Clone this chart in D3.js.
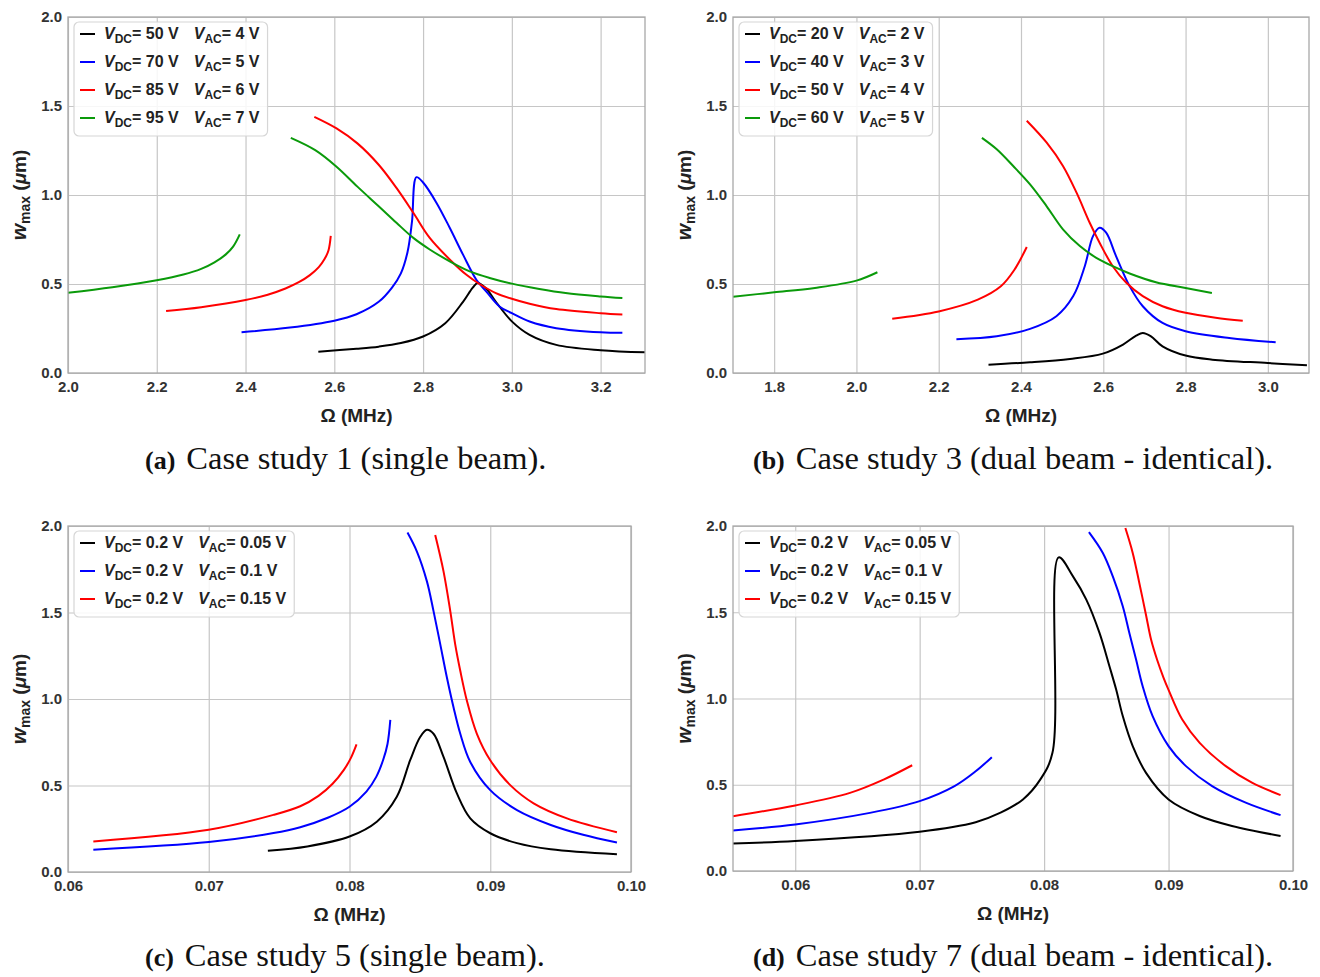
<!DOCTYPE html>
<html>
<head>
<meta charset="utf-8">
<style>
body{margin:0;background:#fff;}
svg{font-family:"Liberation Sans",Arial,sans-serif;}
.grid line{stroke:#c6c6c6;stroke-width:1.2;}
.grid path{display:none;}
.axis path,.axis line{display:none;}
.axis text{font-size:15px;font-weight:bold;fill:#333;}
.frame{fill:none;stroke:#a8a8a8;stroke-width:1.3;}
.line{fill:none;stroke-width:2;stroke-linejoin:round;}
.leg text{font-size:16px;font-weight:bold;fill:#222;}
.cap{font-family:"Liberation Serif","Times New Roman",serif;fill:#111;}
</style>
</head>
<body>
<svg width="1320" height="977"></svg>
<script src="https://d3js.org/d3.v7.min.js"></script>
<script>
// ---- data ----
var colors = ["#000000", "#0000ff", "#ff0000", "#0a9a0a"];
var yTicks = [0, 0.5, 1.0, 1.5, 2.0];

// (a) case study 1
var a_xTicks = [2.0, 2.2, 2.4, 2.6, 2.8, 3.0, 3.2];
var a_vdc = ["50", "70", "85", "95"], a_vac = ["4", "5", "6", "7"];
var a_black = [[2.564,0.12],[2.65,0.136],[2.70,0.148],[2.75,0.168],[2.80,0.205],[2.85,0.28],[2.89,0.40],[2.912,0.48],[2.923,0.505],[2.942,0.475],[2.964,0.40],[3.0,0.29],[3.04,0.214],[3.10,0.158],[3.2,0.128],[3.3,0.116]];
var a_blue = [[2.391,0.229],[2.5,0.255],[2.6,0.294],[2.65,0.33],[2.70,0.40],[2.73,0.48],[2.75,0.56],[2.765,0.68],[2.775,0.85],[2.785,1.10],[2.80,1.07],[2.83,0.957],[2.86,0.816],[2.89,0.665],[2.92,0.524],[2.942,0.459],[2.972,0.374],[3.0,0.336],[3.04,0.289],[3.10,0.252],[3.2,0.229],[3.249,0.226]];
var a_red_lo = [[2.221,0.348],[2.30,0.37],[2.40,0.41],[2.45,0.44],[2.49,0.475],[2.52,0.51],[2.545,0.55],[2.565,0.595],[2.578,0.64],[2.587,0.69],[2.592,0.77]];
var a_red_hi = [[2.555,1.439],[2.605,1.374],[2.652,1.29],[2.70,1.17],[2.74,1.04],[2.778,0.90],[2.815,0.759],[2.864,0.628],[2.897,0.553],[2.927,0.50],[2.964,0.449],[3.0,0.417],[3.04,0.389],[3.10,0.359],[3.2,0.336],[3.249,0.329]];
var a_green_lo = [[2.0,0.451],[2.1,0.482],[2.2,0.521],[2.26,0.553],[2.30,0.585],[2.33,0.622],[2.355,0.665],[2.372,0.71],[2.387,0.779]];
var a_green_hi = [[2.502,1.321],[2.557,1.252],[2.605,1.159],[2.652,1.047],[2.703,0.93],[2.74,0.844],[2.778,0.759],[2.815,0.694],[2.864,0.622],[2.905,0.571],[2.95,0.534],[3.0,0.502],[3.062,0.472],[3.121,0.449],[3.2,0.43],[3.249,0.421]];

// (b) case study 3
var b_xTicks = [1.8, 2.0, 2.2, 2.4, 2.6, 2.8, 3.0];
var b_vdc = ["20", "40", "50", "60"], b_vac = ["2", "3", "4", "5"];
var b_black = [[2.321,0.047],[2.422,0.06],[2.519,0.079],[2.599,0.109],[2.648,0.16],[2.68,0.21],[2.696,0.225],[2.716,0.206],[2.744,0.15],[2.80,0.098],[2.865,0.075],[3.0,0.056],[3.095,0.043]];
var b_blue = [[2.243,0.19],[2.341,0.206],[2.422,0.248],[2.486,0.319],[2.527,0.432],[2.555,0.60],[2.575,0.769],[2.591,0.816],[2.607,0.788],[2.631,0.657],[2.664,0.488],[2.696,0.375],[2.744,0.281],[2.80,0.235],[2.906,0.197],[3.019,0.173]];
var b_red_lo = [[2.087,0.305],[2.2,0.346],[2.295,0.412],[2.351,0.487],[2.384,0.58],[2.414,0.708]];
var b_red_hi = [[2.414,1.417],[2.462,1.295],[2.502,1.163],[2.535,1.013],[2.567,0.844],[2.591,0.732],[2.623,0.60],[2.656,0.507],[2.696,0.432],[2.744,0.375],[2.80,0.338],[2.873,0.31],[2.939,0.293]];
var b_green_lo = [[1.7,0.429],[1.8,0.453],[1.899,0.478],[2.0,0.519],[2.051,0.566]];
var b_green_hi = [[2.305,1.321],[2.341,1.257],[2.381,1.163],[2.422,1.06],[2.462,0.938],[2.502,0.807],[2.543,0.713],[2.583,0.647],[2.623,0.60],[2.664,0.559],[2.728,0.51],[2.80,0.478],[2.864,0.45]];

// (c) case study 5
var c_xTicks = [0.06, 0.07, 0.08, 0.09, 0.10];
var c_vdc = ["0.2", "0.2", "0.2"], c_vac = ["0.05", "0.1", "0.15"];
var c_black = [[0.0742,0.123],[0.077,0.148],[0.08,0.205],[0.08194,0.291],[0.08336,0.435],[0.08431,0.646],[0.08502,0.78],[0.0855,0.822],[0.08597,0.799],[0.08668,0.665],[0.08763,0.454],[0.08858,0.31],[0.09,0.224],[0.0919,0.167],[0.0943,0.132],[0.099,0.103]];
var c_blue_lo = [[0.0618,0.129],[0.07,0.173],[0.0746,0.225],[0.0765,0.259],[0.0785,0.315],[0.08,0.377],[0.0812,0.465],[0.0819,0.55],[0.0824,0.65],[0.0827,0.74],[0.0829,0.879]];
var c_blue_hi = [[0.08412,1.962],[0.08479,1.852],[0.0855,1.68],[0.08597,1.508],[0.08645,1.316],[0.08692,1.124],[0.08739,0.952],[0.08787,0.799],[0.08858,0.636],[0.09,0.473],[0.0919,0.358],[0.0943,0.272],[0.0966,0.215],[0.099,0.17]];
var c_red_lo = [[0.0618,0.177],[0.07,0.244],[0.0746,0.33],[0.0765,0.38],[0.0778,0.44],[0.0788,0.51],[0.0796,0.59],[0.0801,0.66],[0.0805,0.738]];
var c_red_hi = [[0.08609,1.948],[0.08668,1.738],[0.08716,1.508],[0.08751,1.316],[0.08787,1.163],[0.08834,0.99],[0.08905,0.799],[0.09,0.646],[0.09142,0.502],[0.09308,0.397],[0.09545,0.31],[0.099,0.23]];

// (d) case study 7
var d_xTicks = [0.06, 0.07, 0.08, 0.09, 0.10];
var d_vdc = ["0.2", "0.2", "0.2"], d_vac = ["0.05", "0.1", "0.15"];
var d_black = [[0.055,0.16],[0.06,0.174],[0.07,0.228],[0.0745,0.283],[0.0765,0.338],[0.0783,0.415],[0.0797,0.531],[0.08067,0.685],[0.08117,1.818],[0.08232,1.708],[0.08339,1.573],[0.08445,1.38],[0.08525,1.187],[0.08579,1.052],[0.08632,0.898],[0.08712,0.724],[0.08819,0.569],[0.09,0.415],[0.0925,0.319],[0.0951,0.261],[0.099,0.203]];
var d_blue_lo = [[0.055,0.235],[0.06,0.27],[0.066,0.337],[0.07,0.405],[0.0728,0.492],[0.0745,0.578],[0.0758,0.66]];
var d_blue_hi = [[0.0836,1.965],[0.08472,1.844],[0.08552,1.708],[0.08632,1.535],[0.08685,1.38],[0.08739,1.226],[0.08792,1.071],[0.08872,0.898],[0.09,0.724],[0.0914,0.608],[0.0935,0.492],[0.0962,0.396],[0.099,0.324]];
var d_red_lo = [[0.055,0.318],[0.06,0.38],[0.0644,0.453],[0.0671,0.53],[0.0694,0.613]];
var d_red_hi = [[0.08653,1.988],[0.08712,1.844],[0.08765,1.67],[0.0882,1.48],[0.0886,1.34],[0.0891,1.22],[0.0896,1.12],[0.09,1.05],[0.0911,0.878],[0.0925,0.743],[0.0946,0.608],[0.0967,0.512],[0.099,0.44]];

// ---- panels ----
var panels = [
  {box:[68,17,645,373], xDomain:[2.0,3.3], xTicks:a_xTicks, fmt:".1f",
   lines:[[a_black,0],[a_blue,1],[a_red_lo,2],[a_red_hi,2],[a_green_lo,3],[a_green_hi,3]],
   vdc:a_vdc, vac:a_vac, letter:"(a)", caption:"Case study 1 (single beam).", capX:145, capY:469},
  {box:[733,17,1309,373], xDomain:[1.7,3.1], xTicks:b_xTicks, fmt:".1f",
   lines:[[b_black,0],[b_blue,1],[b_red_lo,2],[b_red_hi,2],[b_green_lo,3],[b_green_hi,3]],
   vdc:b_vdc, vac:b_vac, letter:"(b)", caption:"Case study 3 (dual beam - identical).", capX:753, capY:469},
  {box:[68,526,631,872], xDomain:[0.06,0.10], xTicks:c_xTicks, fmt:".2f",
   lines:[[c_black,0],[c_blue_lo,1],[c_blue_hi,1],[c_red_lo,2],[c_red_hi,2]],
   vdc:c_vdc, vac:c_vac, letter:"(c)", caption:"Case study 5 (single beam).", capX:145, capY:966},
  {box:[733,526,1293,871], xDomain:[0.055,0.10], xTicks:d_xTicks, fmt:".2f",
   lines:[[d_black,0],[d_blue_lo,1],[d_blue_hi,1],[d_red_lo,2],[d_red_hi,2]],
   vdc:d_vdc, vac:d_vac, letter:"(d)", caption:"Case study 7 (dual beam - identical).", capX:753, capY:966}
];

var svg = d3.select("svg");
svg.append("rect").attr("width",1320).attr("height",977).attr("fill","#fff");

panels.forEach(drawPanel);

function drawPanel(p){
  var x0 = p.box[0], y0 = p.box[1], x1 = p.box[2], y1 = p.box[3];
  var w = x1 - x0, h = y1 - y0;
  var x = d3.scaleLinear().domain(p.xDomain).range([0, w]);
  var y = d3.scaleLinear().domain([0, 2]).range([h, 0]);
  var g = svg.append("g").attr("transform","translate("+x0+","+y0+")");

  // grid
  g.append("g").attr("class","grid").attr("transform","translate(0,"+h+")")
    .call(d3.axisBottom(x).tickValues(p.xTicks).tickSize(-h).tickFormat(""));
  g.append("g").attr("class","grid")
    .call(d3.axisLeft(y).tickValues(yTicks).tickSize(-w).tickFormat(""));

  // tick labels
  g.append("g").attr("class","axis").attr("transform","translate(0,"+h+")")
    .call(d3.axisBottom(x).tickValues(p.xTicks).tickSize(0).tickPadding(8).tickFormat(d3.format(p.fmt)));
  g.append("g").attr("class","axis")
    .call(d3.axisLeft(y).tickValues(yTicks).tickSize(0).tickPadding(6).tickFormat(d3.format(".1f")));

  // curves
  var line = d3.line().x(function(d){return x(d[0]);}).y(function(d){return y(d[1]);})
    .curve(d3.curveCatmullRom.alpha(0.5));
  p.lines.forEach(function(l){
    g.append("path").attr("class","line").attr("d", line(l[0])).style("stroke", colors[l[1]]);
  });

  g.append("rect").attr("class","frame").attr("width",w).attr("height",h);

  // axis titles
  var xl = g.append("text").attr("x", w/2).attr("y", h+49).attr("text-anchor","middle")
    .style("font-size","19px").style("font-weight","bold").style("fill","#222");
  xl.text("Ω (MHz)");
  var yl = g.append("text").attr("transform","translate(-42,"+(h/2)+") rotate(-90)")
    .attr("text-anchor","middle").style("font-size","19px").style("font-weight","bold").style("fill","#222");
  yl.append("tspan").style("font-style","italic").style("font-size","21px").text("w");
  yl.append("tspan").attr("dy",4).style("font-size","14px").text("max");
  yl.append("tspan").attr("dy",-4).text(" (");
  yl.append("tspan").style("font-style","italic").text("μ");
  yl.append("tspan").text("m)");

  // legend
  var leg = g.append("g").attr("class","leg");
  var box = leg.append("rect").attr("x",6).attr("y",5).attr("rx",5)
    .attr("fill","rgba(255,255,255,0.85)").attr("stroke","#d6d6d6").attr("stroke-width",1.2);
  var maxW = 0;
  p.vdc.forEach(function(v,i){
    var cy = 17 + i*28;
    leg.append("line").attr("x1",12).attr("x2",27).attr("y1",cy).attr("y2",cy)
      .style("stroke",colors[i]).style("stroke-width",2);
    var t1 = leg.append("text").attr("x",36).attr("y",cy+5);
    t1.append("tspan").style("font-style","italic").text("V");
    t1.append("tspan").attr("dy",4).style("font-size","12px").text("DC");
    t1.append("tspan").attr("dy",-4).text("= "+v+" V");
    var tx = 36 + t1.node().getComputedTextLength() + 15;
    var t2 = leg.append("text").attr("x",tx).attr("y",cy+5);
    t2.append("tspan").style("font-style","italic").text("V");
    t2.append("tspan").attr("dy",4).style("font-size","12px").text("AC");
    t2.append("tspan").attr("dy",-4).text("= "+p.vac[i]+" V");
    maxW = Math.max(maxW, tx + t2.node().getComputedTextLength());
  });
  box.attr("width", maxW + 8 - 6).attr("height", p.vdc.length*28 + 2);

  // caption
  var cap = svg.append("text").attr("class","cap").attr("x",p.capX).attr("y",p.capY);
  cap.append("tspan").style("font-weight","bold").style("font-size","26px").text(p.letter);
  cap.append("tspan").attr("dx",11).style("font-size","32.5px").text(p.caption);
}
</script>
</body>
</html>
